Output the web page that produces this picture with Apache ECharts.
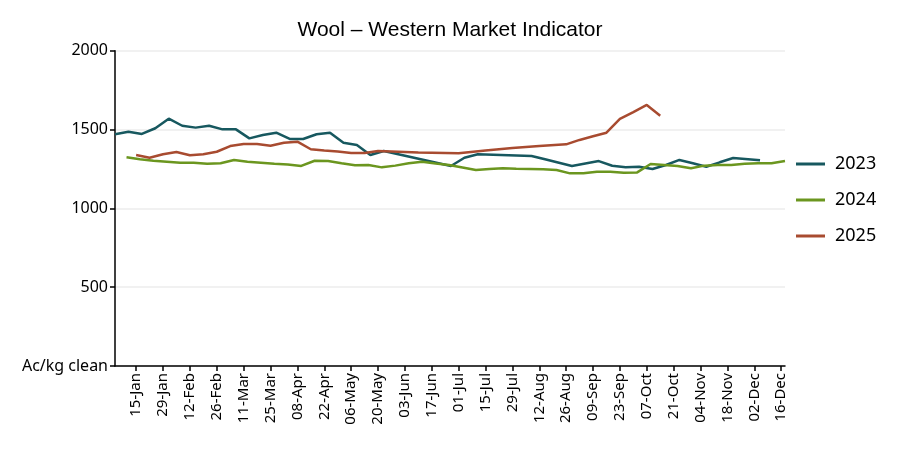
<!DOCTYPE html>
<html>
<head>
<meta charset="utf-8">
<script src="https://cdn.jsdelivr.net/npm/echarts@6/dist/echarts.min.js"></script>
<style>html,body{margin:0;padding:0;background:#fff}#c{width:900px;height:450px}</style>
</head>
<body>
<div id="c"></div>
<script>
// Day-of-year positions (2024 calendar) and tick labels
const tickDays = [15,29,43,57,71,85,99,113,127,141,155,169,183,197,211,225,239,253,267,281,295,309,323,337,351];
const tickLabels = ['15-Jan','29-Jan','12-Feb','26-Feb','11-Mar','25-Mar','08-Apr','22-Apr','06-May','20-May','03-Jun','17-Jun','01-Jul','15-Jul','29-Jul','12-Aug','26-Aug','09-Sep','23-Sep','07-Oct','21-Oct','04-Nov','18-Nov','02-Dec','16-Dec'];

const days2023 = [4,11,18,25,32,39,46,53,60,67,74,81,88,95,102,109,116,123,130,137,144,151,179,186,193,221,228,242,256,263,270,277,284,291,298,305,312,319,326,340];
const values2023 = [1470,1486,1472,1508,1569,1524,1512,1524,1501,1501,1444,1465,1480,1440,1440,1470,1480,1416,1402,1338,1364,1345,1269,1321,1343,1332,1311,1269,1300,1270,1260,1264,1250,1275,1307,1286,1264,1292,1319,1305];

const days2024 = [10,17,24,31,38,45,52,59,66,73,80,87,94,101,108,115,122,129,136,143,150,157,164,171,178,185,192,199,206,213,220,227,234,241,248,255,262,269,276,283,290,297,304,311,318,325,332,339,346,353];
const values2024 = [1324,1311,1302,1296,1290,1290,1283,1286,1307,1296,1290,1283,1278,1269,1302,1300,1286,1273,1275,1260,1271,1286,1296,1284,1275,1259,1243,1250,1254,1251,1250,1248,1243,1222,1222,1232,1232,1226,1228,1281,1275,1269,1254,1271,1275,1275,1283,1286,1286,1300];

const days2025 = [15,22,29,36,43,50,57,64,71,78,85,92,99,106,113,120,127,134,141,148,162,183,197,211,225,239,246,253,260,267,274,281,288];
const values2025 = [1338,1321,1343,1357,1337,1343,1359,1395,1408,1408,1397,1416,1423,1375,1367,1360,1351,1351,1364,1361,1354,1350,1367,1383,1396,1406,1434,1457,1480,1567,1611,1656,1588];

const seriesNames = ['2023','2024','2025'];
const colors = ['#17585f','#6b961f','#a84b30'];

const pair = (d, v) => d.map((x, i) => [x, v[i]]);
const labelMap = {};
tickDays.forEach((d, i) => labelMap[d] = tickLabels[i]);

const chart = echarts.init(document.getElementById('c'));
const FONT = 'Noto Sans';
chart.setOption({
  animation: false,
  color: colors,
  title: {
    text: 'Wool \u2013 Western Market Indicator',
    left: 'center', top: 15,
    textStyle: {fontFamily: 'Liberation Sans', fontSize: 21, fontWeight: 'normal', color: '#000'}
  },
  legend: {
    orient: 'vertical', left: 791, top: 150, itemGap: 18,
    icon: 'rect', itemWidth: 29, itemHeight: 3,
    textStyle: {fontFamily: FONT, fontSize: 18, color: '#000', lineHeight: 18, padding: [0,0,0,5]},
    data: seriesNames
  },
  grid: {left: 115, right: 115, top: 50.7, bottom: 84, containLabel: false},
  xAxis: {
    type: 'value', min: 4, max: 353,
    axisLine: {show: true, onZero: false, lineStyle: {color: '#000', width: 1.5}},
    axisTick: {show: true, length: 5, customValues: tickDays, lineStyle: {color: '#000', width: 1.5}},
    axisLabel: {
      customValues: tickDays, rotate: 90, margin: 7,
      fontFamily: FONT, fontSize: 15, color: '#000',
      formatter: v => labelMap[v] || ''
    },
    splitLine: {show: false}
  },
  yAxis: {
    type: 'value', min: 0, max: 2000, interval: 500,
    axisLine: {show: true, lineStyle: {color: '#000', width: 1.5}},
    axisTick: {show: true, length: 5, lineStyle: {color: '#000', width: 1.5}},
    axisLabel: {
      margin: 7, fontFamily: FONT, fontSize: 16, color: '#000',
      formatter: v => v === 0 ? 'Ac/kg clean' : String(v)
    },
    splitLine: {show: true, lineStyle: {color: '#ececec', width: 1.5}}
  },
  series: [
    {name: seriesNames[0], type: 'line', data: pair(days2023, values2023), showSymbol: false, symbol: 'none', lineStyle: {width: 2.5, color: colors[0]}, itemStyle: {color: colors[0]}},
    {name: seriesNames[1], type: 'line', data: pair(days2024, values2024), showSymbol: false, symbol: 'none', lineStyle: {width: 2.5, color: colors[1]}, itemStyle: {color: colors[1]}},
    {name: seriesNames[2], type: 'line', data: pair(days2025, values2025), showSymbol: false, symbol: 'none', lineStyle: {width: 2.5, color: colors[2]}, itemStyle: {color: colors[2]}}
  ]
});
</script>
</body>
</html>
